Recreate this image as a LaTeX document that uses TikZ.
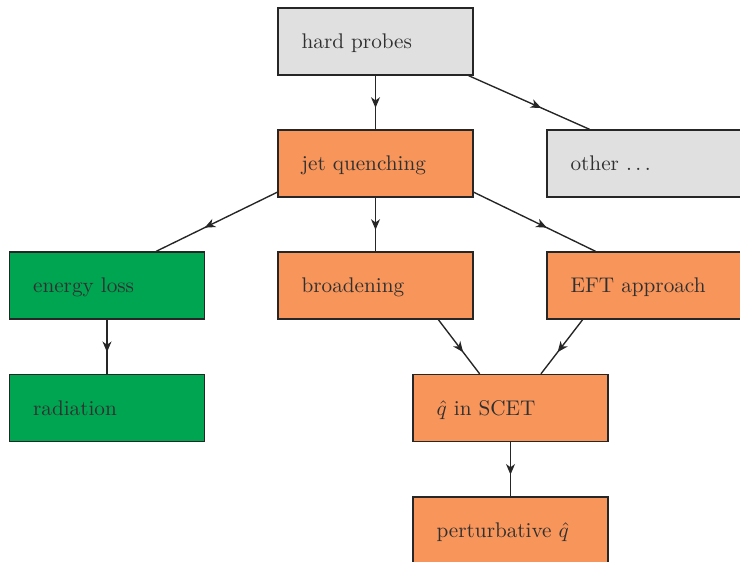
\documentclass[tikz,border=0pt]{standalone}
\usetikzlibrary{arrows.meta,decorations.markings,calc}
\definecolor{boxgray}{HTML}{E0E0E0}
\definecolor{boxorange}{HTML}{F7955A}
\definecolor{boxgreen}{HTML}{00A551}
\definecolor{txtgray}{HTML}{303030}
\definecolor{linegray}{HTML}{262626}
\tikzset{
  box/.style={rectangle, draw=linegray, line width=0.6pt, text=txtgray,
    minimum width=92pt, minimum height=31.6pt, inner xsep=10.85pt,
    text width=92pt-21.7pt-0.6pt, text height=6.9pt, text depth=0pt,
    align=left, font=\normalsize},
  graybox/.style={box, fill=boxgray},
  orangebox/.style={box, fill=boxorange},
  greenbox/.style={box, fill=boxgreen},
  flow/.style={draw=linegray, line width=0.65pt, postaction={decorate},
    decoration={markings, mark=at position 0.6 with {\arrow{Stealth[length=5pt,width=4.2pt,inset=1.5pt]}}}}
}
\begin{document}
\begin{tikzpicture}[x=0.4717pt,y=-0.4717pt]
\useasboundingbox (0,0) rectangle (740,562);
\node[graybox]   (hp)    at (375.5,41.5)  {hard probes};
\node[orangebox] (jq)    at (375.5,163.5) {jet quenching};
\node[graybox]   (other) at (644.5,163.5) {other .\kern1.67pt.\kern1.67pt.};
\node[greenbox]  (el)    at (107,285.5)   {energy loss};
\node[orangebox] (br)    at (375.5,285.5) {broadening};
\node[orangebox] (eft)   at (644.5,285.5) {EFT approach};
\node[greenbox]  (rad)   at (107,408)     {radiation};
\node[orangebox] (scet)  at (510.5,408)   {$\hat{q}$ in SCET};
\node[orangebox] (pert)  at (510.5,530.5) {perturbative $\hat{q}$};
\path[flow] (hp.south) -- (jq.north);
\path[flow] (jq.south) -- (br.north);
\path[flow] (el.south) -- (rad.north);
\path[flow] (scet.south) -- (pert.north);
\path[flow] ($(hp.south west)!0.974!(hp.south east)$) -- ($(other.north west)!0.2205!(other.north east)$);
\path[flow] ($(jq.north west)!0.92!(jq.south west)$) -- ($(el.north west)!0.75!(el.north east)$);
\path[flow] ($(jq.north east)!0.92!(jq.south east)$) -- ($(eft.north west)!0.251!(eft.north east)$);
\path[flow] ($(br.south west)!0.82!(br.south east)$) -- ($(scet.north west)!0.343!(scet.north east)$);
\path[flow] ($(eft.south west)!0.185!(eft.south east)$) -- ($(scet.north west)!0.655!(scet.north east)$);
\end{tikzpicture}
\end{document}
